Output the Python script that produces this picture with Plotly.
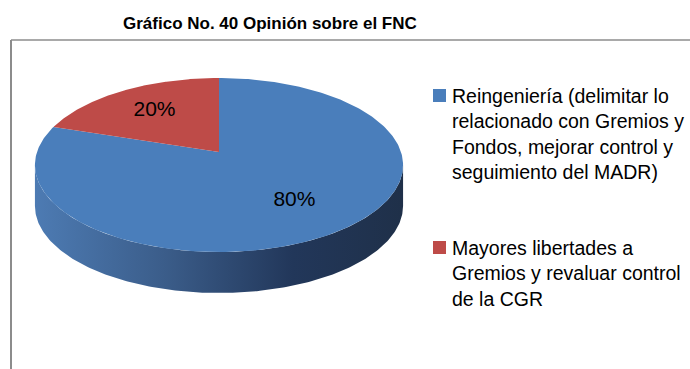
import numpy as np
import plotly.graph_objects as go

# ---- data ----
categories = [
    "Reingeniería (delimitar lo<br>relacionado con Gremios y<br>Fondos, mejorar control y<br>seguimiento del MADR)",
    "Mayores libertades a<br>Gremios y revaluar control<br>de la CGR",
]
shares = [80, 20]
slice_colors = ["#4a7ebb", "#be4b48"]

title_text = "Gráfico No. 40 Opinión sobre el FNC"

# ---- 3D pie geometry (pixel canvas, perspective-tilted disc) ----
W, H = 690, 369
CX, CY = 219.0, 152.0      # projected disc centre
P, G = 62.35, -0.1494      # vertical perspective terms
A = 182.0                  # horizontal radius
DEPTH = 41.0               # thickness of the disc edge


def project(phi_deg, r=1.0):
    """Angle measured clockwise from the far side of the disc."""
    phi = np.radians(phi_deg)
    u = r * np.sin(phi)
    v = -r * np.cos(phi)
    den = 1.0 + G * v
    return CX + A * u / den, (CY + P * v) / den


fig = go.Figure()

total = float(sum(shares))
bounds = np.concatenate([[0.0], np.cumsum(shares) / total * 360.0])

# visible front rim: between the two horizontal extremes of the top ellipse
phis = np.linspace(0, 360, 3601)
xs_all, _ = project(phis)
phi_right = phis[np.argmax(xs_all)]
phi_left = phis[np.argmin(xs_all)]

# side walls (drawn first so the top covers them)
for i, col in enumerate(slice_colors):
    a0 = max(bounds[i], phi_right)
    a1 = min(bounds[i + 1], phi_left)
    if a1 <= a0:
        continue
    ang = np.linspace(a0, a1, 200)
    tx, ty = project(ang)
    xs = np.concatenate([tx, tx[::-1]])
    ys = np.concatenate([ty, ty[::-1] + DEPTH])
    fig.add_trace(go.Scatter(
        x=xs, y=ys, mode="lines", fill="toself",
        line=dict(width=0, color="rgba(0,0,0,0)"),
        fillgradient=dict(
            type="horizontal",
            colorscale=[[0.0, "#4d7bb3"], [0.35, "#3b5d8a"],
                        [0.7, "#22375a"], [1.0, "#1f3049"]],
        ),
        hoverinfo="skip", showlegend=False,
    ))

# top faces of the slices
for i, col in enumerate(slice_colors):
    ang = np.linspace(bounds[i], bounds[i + 1], 300)
    ex, ey = project(ang)
    xs = np.concatenate([[CX], ex, [CX]])
    ys = np.concatenate([[CY], ey, [CY]])
    fig.add_trace(go.Scatter(
        x=xs, y=ys, mode="lines", fill="toself", fillcolor=col,
        line=dict(width=0, color=col),
        hoverinfo="skip", showlegend=False,
    ))

# percentage labels at each slice's mid-angle
mids = (bounds[:-1] + bounds[1:]) / 2.0
lx, ly = project(mids, 0.65)
fig.add_trace(go.Scatter(
    x=lx, y=ly, mode="text",
    text=[f"{s:.0f}%" for s in shares],
    textposition="middle center",
    textfont=dict(family="Liberation Sans, Arial", size=21, color="#000000"),
    hoverinfo="skip", showlegend=False,
))

# ---- legend (swatch + wrapped label) ----
legend_tops = [88, 240]
shapes = []
annotations = []
for top, col, label in zip(legend_tops, slice_colors, categories):
    shapes.append(dict(type="rect", xref="x", yref="y",
                       x0=433, x1=446, y0=top + 1, y1=top + 14,
                       fillcolor=col, line=dict(width=0)))
    annotations.append(dict(
        x=450, y=top - 5, xref="x", yref="y",
        xanchor="left", yanchor="top", align="left", showarrow=False,
        text=label,
        font=dict(family="Liberation Sans, Arial", size=19.5, color="#000000"),
    ))

# chart frame (top and left edges)
shapes.append(dict(type="line", xref="x", yref="y", x0=11, x1=W, y0=40, y1=40,
                   line=dict(color="#8c8c8c", width=1.5)))
shapes.append(dict(type="line", xref="x", yref="y", x0=11, x1=11, y0=40, y1=H,
                   line=dict(color="#8c8c8c", width=2)))

# title
annotations.append(dict(
    x=270, y=23, xref="x", yref="y", xanchor="center", yanchor="middle",
    showarrow=False, text=f"<b>{title_text}</b>",
    font=dict(family="Liberation Sans, Arial", size=17, color="#000000"),
))

fig.update_layout(
    width=W, height=H,
    margin=dict(l=0, r=0, t=0, b=0),
    paper_bgcolor="#ffffff", plot_bgcolor="#ffffff",
    xaxis=dict(range=[0, W], visible=False, fixedrange=True),
    yaxis=dict(range=[H, 0], visible=False, fixedrange=True),
    shapes=shapes, annotations=annotations,
    showlegend=False,
)

fig.write_html("out.html")
